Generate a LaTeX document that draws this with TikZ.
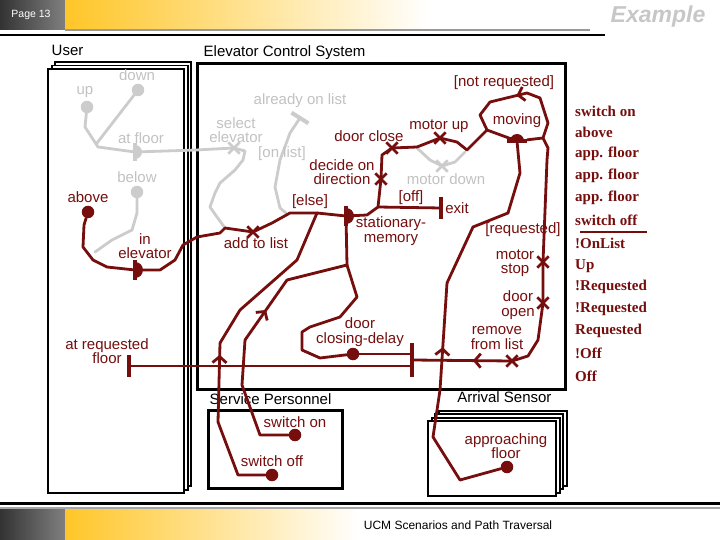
\documentclass[tikz,border=0pt]{standalone}
\usepackage{fontspec}
\setmainfont{Liberation Sans}
\newfontfamily\listfont{Liberation Serif}
\usetikzlibrary{shapes.misc, arrows.meta, decorations.markings, shadows, positioning}

\definecolor{ucmred}{RGB}{118,14,14}
\definecolor{ucmgray}{RGB}{204,204,204}
\definecolor{barback}{RGB}{255,198,40}

\tikzset{
  midarrow/.style={postaction={decorate}, decoration={markings, mark=at position #1 with {\arrow{Straight Barb[length=6pt, width=14pt]}}}}
}

\begin{document}
\begin{tikzpicture}[x=1pt, y=-1pt, every node/.style={font=\fontsize{15}{14.5}\selectfont}]
    \tikzstyle{compbox} = [rectangle, draw=black, fill=white, line width=2.2pt, anchor=north west, inner sep=0pt]
    \tikzstyle{boxlbl} = [text=black, inner sep=0.5pt]
    \tikzstyle{lbl} = [text=ucmred, align=center, inner sep=0pt]
    \tikzstyle{glbl} = [text=ucmgray!95!black, align=center, inner sep=0pt]
    \tikzstyle{listlbl} = [anchor=west, text=ucmred, inner sep=0pt, font=\fontsize{15}{15}\selectfont\listfont\bfseries]
    \tikzstyle{upath} = [draw, color=ucmred, line width=2.8pt, line join=round, line cap=round]
    \tikzstyle{gpath} = [draw, color=ucmgray, line width=2.8pt, line join=round, line cap=round]
    \tikzstyle{ucmstart} = [circle, fill=ucmred, minimum size=12.5pt, inner sep=0pt]
    \tikzstyle{gstart} = [circle, fill=ucmgray, minimum size=12.5pt, inner sep=0pt]
    \tikzstyle{ucmresp} = [cross out, draw=ucmred, line width=2.8pt, minimum size=8.5pt, inner sep=0pt]
    \tikzstyle{gresp} = [cross out, draw=ucmgray, line width=2.8pt, minimum size=8.5pt, inner sep=0pt]
    \tikzstyle{ucmwait} = [rectangle, fill=ucmred, minimum width=3.5pt, minimum height=20pt, inner sep=0pt]
    \tikzstyle{gwait} = [rectangle, fill=ucmgray, minimum width=3.5pt, minimum height=18pt, inner sep=0pt]
    \tikzstyle{hwait} = [rectangle, fill=ucmred, minimum width=20pt, minimum height=3.5pt, inner sep=0pt]
    \tikzstyle{endbar} = [rectangle, fill=ucmred, minimum width=4pt, minimum height=22pt, inner sep=0pt]
    \tikzstyle{gend} = [rectangle, fill=ucmgray, minimum width=4pt, minimum height=20pt, inner sep=0pt]
    \tikzstyle{andbar} = [rectangle, fill=ucmred, minimum width=4pt, minimum height=34pt, inner sep=0pt]

    \useasboundingbox (0,0) rectangle (720,540);

    % header and footer bars
    \shade[left color=black!80, right color=black!50] (0,0) rectangle (65,30);
    \shade[left color=barback, right color=white] (65,0) rectangle (430,30);
    \fill[black!40] (65,29) rectangle (590,31);
    \fill[black] (0,34) rectangle (605,36.5);
    \node[text=white, font=\fontsize{10.5}{10.5}\selectfont] (page) at (31,15) {Page 13};
    \node[text=black!22, font=\fontsize{23}{23}\selectfont\bfseries\itshape] (title) at (658,17) {Example};

    \fill[black] (0,502) rectangle (720,504.5);
    \fill[black!35] (0,507) rectangle (720,509);
    \shade[left color=black!80, right color=black!50] (0,509) rectangle (65,540);
    \shade[left color=barback, right color=white] (65,509) rectangle (360,540);
    \node[font=\fontsize{12}{12}\selectfont] (footer) at (458,525) {UCM Scenarios and Path Traversal};

    % components
    \node[compbox, minimum width=136pt, minimum height=424pt,
          copy shadow={shadow xshift=7pt, shadow yshift=7pt, draw=black, fill=white, line width=1.8pt},
          copy shadow={shadow xshift=3.5pt, shadow yshift=3.5pt, draw=black, fill=white, line width=1.8pt}] (user) at (47,68) {};
    \node[compbox, line width=3pt, minimum width=368pt, minimum height=326pt] (ecs) at (196,62) {};
    \node[compbox, line width=3pt, minimum width=134pt, minimum height=78pt] (service) at (207,409) {};
    \node[compbox, minimum width=128pt, minimum height=75pt,
          copy shadow={shadow xshift=10.5pt, shadow yshift=10.5pt, draw=black, fill=white, line width=1.8pt},
          copy shadow={shadow xshift=7pt, shadow yshift=7pt, draw=black, fill=white, line width=1.8pt},
          copy shadow={shadow xshift=3.5pt, shadow yshift=3.5pt, draw=black, fill=white, line width=1.8pt}] (arrival) at (427,420) {};

    \node[boxlbl, above right=12pt and 4pt of user.north west] (userT) {User};
    \node[boxlbl, above right=2pt and 7pt of ecs.north west] (ecsT) {Elevator Control System};
    \node[boxlbl, above right=3.5pt and 2pt of service.north west] (serviceT) {Service Personnel};
    \node[boxlbl, above left=16.5pt and 5pt of arrival.north east] (arrivalT) {Arrival Sensor};

    % grey paths
    \node[gstart] (up) at (87,107) {};
    \node[gstart] (down) at (138,90) {};
    \node[gwait] (atfloor) at (135,152) {};
    \node[gstart] (below) at (137,192) {};
    \node[gresp] (select) at (234,148) {};
    \node[gend, rotate=58] (onlist) at (300,118) {};
    \node[gresp] (mdown) at (442,166) {};

    \draw[gpath] (up) -- (85,127) -- (98,147) -- (atfloor);
    \draw[gpath] (down) -- (97,143);
    \draw[gpath] (atfloor) -- (196,150) -- (select.center);
    \draw[gpath] (select.center) -- (245,151) -- (243,160) -- (235,170) -- (220,183) -- (215,193) -- (210,207) -- (217,217) -- (225,228);
    \draw[gpath] (below) -- (137,213) -- (132,230) -- (112,240) -- (95,252);
    \draw[gpath] (onlist) -- (290,133) -- (280,160) -- (275,187) -- (280,208) -- (286,213);
    \draw[gpath] (417,148) -- (430,160) -- (mdown.center) -- (455,162) -- (465,152);
    \fill[ucmgray] (atfloor.center) ++(0pt,-7pt) arc[start angle=-90, end angle=90, radius=7pt];

    % red paths
    \node[ucmstart] (above) at (88,212) {};
    \node[ucmwait] (inelev) at (135,270) {};
    \node[ucmresp] (addlist) at (253,232) {};
    \node[ucmwait] (stat) at (346,216) {};
    \node[ucmresp] (decide) at (381,179) {};
    \node[ucmresp] (dclose) at (392,148) {};
    \node[ucmresp] (mup) at (440,138) {};
    \node[hwait] (moving) at (517,141) {};
    \node[endbar] (exit) at (441,208) {};
    \node[ucmresp] (mstop) at (543,262) {};
    \node[ucmresp] (dopen) at (543,303) {};
    \node[ucmresp] (remove) at (512,361) {};
    \node[andbar] (fork) at (412,360) {};
    \node[ucmstart] (delay) at (353,354) {};
    \node[endbar] (reqfloor) at (129,366) {};
    \node[ucmstart] (swon) at (295,435) {};
    \node[ucmstart] (swoff) at (272,475) {};
    \node[ucmstart] (approach) at (507,467) {};
    \coordinate (elsesplit) at (317,213);
    \coordinate (offsplit) at (378,207);
    \coordinate (loopsplit) at (487,130);
    \coordinate (delayjoin) at (347,265);

    \draw[upath] (above) -- (84,225) -- (83,247) -- (93,260) -- (107,267) -- (inelev);
    \draw[upath] (inelev) -- (160,270) -- (175,260) -- (183,245) -- (197,237) -- (220,233) -- (225,228) -- (addlist.center) -- (272,223) -- (290,213) -- (elsesplit) -- (stat);
    \draw[upath] (stat) -- (367,215) -- (offsplit) -- (decide.center) -- (382,155) -- (dclose.center) -- (417,147) -- (mup.center) -- (457,142) -- (467,150) -- (loopsplit) -- (moving);
    \draw[upath] (offsplit) -- (exit);
    \draw[upath, midarrow=0.58] (moving) -- (543,138) -- (548,123) -- (540,98) -- (527,93) -- (490,102) -- (480,115) -- (loopsplit);
    \draw[upath] (543,138) -- (548,148) -- (547,160) -- (mstop.center) -- (dopen.center) -- (538,340) -- (528,356) -- (remove.center);
    \draw[upath, midarrow=0.4] (remove.center) -- (fork);
    \draw[upath] (fork |- delay) -- (delay);
    \draw[upath] (fork |- reqfloor) -- (reqfloor);
    \draw[upath] (delay) -- (320,358) -- (302,350) -- (302,332) -- (310,327) -- (340,317) -- (357,297) -- (delayjoin);
    \draw[upath] (stat) -- (delayjoin);
    \draw[upath] (swon) -- (260,435) -- (242,385) -- (245,340);
    \draw[upath, midarrow=0.5] (245,340) -- (287,280);
    \draw[upath] (287,280) -- (delayjoin);
    \draw[upath] (swoff) -- (238,475) -- (218,422);
    \draw[upath, midarrow=0.85] (218,422) -- (220,343);
    \draw[upath] (220,343) -- (240,310) -- (297,260) -- (elsesplit);
    \draw[upath] (approach) -- (460,480) -- (433,437) -- (440,390);
    \draw[upath, midarrow=0.4] (440,390) -- (447,283);
    \draw[upath] (447,283) -- (473,227) -- (508,213) -- (520,173) -- (moving);

    \fill[ucmred] (inelev.center) ++(0pt,-8pt) arc[start angle=-90, end angle=90, radius=8pt];
    \fill[ucmred] (stat.center) ++(0pt,-8pt) arc[start angle=-90, end angle=90, radius=8pt];
    \fill[ucmred] (moving.center) ++(-7pt,0pt) arc[start angle=180, end angle=0, radius=7pt];

    % labels
    \node[glbl] (upT) at (85,92) {up};
    \node[glbl] (downT) at (137,75) {down};
    \node[glbl] (atfloorT) at (141,138) {at floor};
    \node[glbl] (belowT) at (137,177) {below};
    \node[lbl] (aboveT) at (88,197) {above};
    \node[lbl] (inelevT) at (145,246) {in\\elevator};
    \node[lbl] (reqfloorT) at (107,351) {at requested\\floor};
    \node[glbl] (onlistT) at (300,101) {already on list};
    \node[glbl] (selectT) at (236,130) {select\\elevator};
    \node[glbl] (onlistbrT) at (282,154) {[on list]};
    \node[glbl] (mdownT) at (446,179) {motor down};
    \node[lbl] (addlistT) at (256,243) {add to list};
    \node[lbl] (elseT) at (310,202) {[else]};
    \node[lbl] (decideT) at (342,172) {decide on\\direction};
    \node[lbl] (dcloseT) at (369,136) {door close};
    \node[lbl] (mupT) at (439,126) {motor up};
    \node[lbl] (movingT) at (517,121) {moving};
    \node[lbl] (notreqT) at (504,83) {[not requested]};
    \node[lbl] (offT) at (411,198) {[off]};
    \node[lbl] (exitT) at (457,208) {exit};
    \node[lbl] (statT) at (391,231) {stationary-\\memory};
    \node[lbl] (reqT) at (523,230) {[requested]};
    \node[lbl] (mstopT) at (515,263) {motor\\stop};
    \node[lbl] (dopenT) at (518,305) {door\\open};
    \node[lbl] (removeT) at (497,338) {remove\\from list};
    \node[lbl] (delayT) at (360,332) {door\\closing-delay};
    \node[lbl] (swonT) at (295,422) {switch on};
    \node[lbl] (swoffT) at (272,461) {switch off};
    \node[lbl] (approachT) at (506,446) {approaching\\floor};

    % scenario list
    \node[listlbl] (s1) at (575,111) {switch on};
    \node[listlbl] (s2) at (575,132) {above};
    \node[listlbl] (s3) at (575,154) {app. floor};
    \node[listlbl] (s4) at (575,176) {app. floor};
    \node[listlbl] (s5) at (575,198) {app. floor};
    \node[listlbl] (s6) at (575,220) {switch off};
    \draw[ucmred, line width=1pt] (580,232) -- (647,232);
    \node[listlbl] (s7) at (575,243) {!OnList};
    \node[listlbl] (s8) at (575,266) {Up};
    \node[listlbl] (s9) at (575,287) {!Requested};
    \node[listlbl] (s10) at (575,309) {!Requested};
    \node[listlbl] (s11) at (575,331) {Requested};
    \node[listlbl] (s12) at (575,353) {!Off};
    \node[listlbl] (s13) at (575,376) {Off};
\end{tikzpicture}
\end{document}
